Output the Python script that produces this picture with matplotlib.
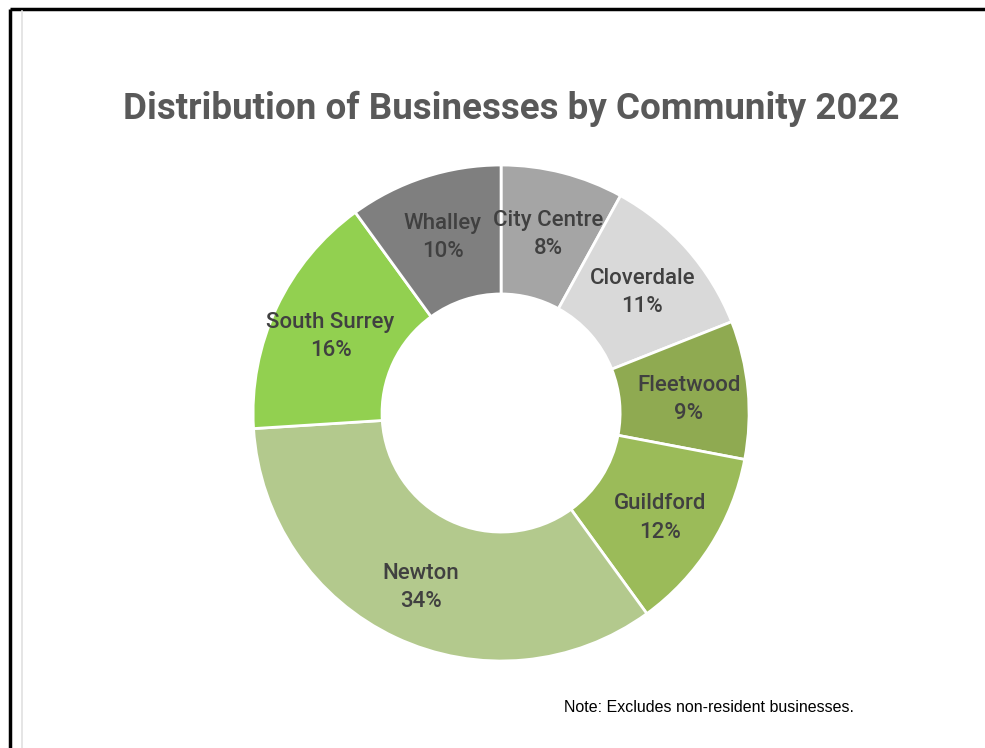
import matplotlib.pyplot as plt
from matplotlib.lines import Line2D
from matplotlib.transforms import offset_copy

communities = ["City Centre", "Cloverdale", "Fleetwood", "Guildford",
               "Newton", "South Surrey", "Whalley"]
shares = [8, 11, 9, 12, 34, 16, 10]
colors = ["#A5A5A5", "#D9D9D9", "#8FAA51", "#9BBB59",
          "#B3C98D", "#92D050", "#7F7F7F"]

fig = plt.figure(figsize=(9.85, 7.48), dpi=100)
fig.patch.set_facecolor("white")

# frame lines along the top and left edge
fig.add_artist(Line2D([0.0098, 0.0098], [0, 0.988], color="black", lw=2.5,
                      solid_capstyle="butt"))
fig.add_artist(Line2D([0.0098, 1.0], [0.988, 0.988], color="black", lw=2.5,
                      solid_capstyle="butt"))
fig.add_artist(Line2D([0.0223, 0.0223], [0, 0.985], color="#E0E0E0", lw=1.2))

fig.text(0.519, 0.855, "Distribution of Businesses by Community 2022",
         ha="center", va="center", fontsize=26.5, fontweight="bold",
         color="#595959", family="Roboto")

ax = fig.add_axes([0.2569, 0.1163, 0.5036, 0.6631])
labels = [f"{c}\n{s}%" for c, s in zip(communities, shares)]
wedges, texts = ax.pie(shares, colors=colors, startangle=90, counterclock=False,
                       labels=labels, labeldistance=0.76,
                       wedgeprops=dict(width=0.52, edgecolor="white", linewidth=2),
                       textprops=dict(ha="center", va="center", fontsize=16,
                                      fontweight="medium", color="#404040",
                                      family="Roboto", linespacing=1.45))
# nudge the labels down a few pixels
for t in texts:
    t.set_transform(offset_copy(ax.transData, fig=fig, y=-4, units="dots"))
ax.set_xlim(-1, 1)
ax.set_ylim(-1, 1)
ax.set_aspect("equal")

fig.text(0.573, 0.054, "Note: Excludes non-resident businesses.",
         ha="left", va="center", fontsize=11.5, color="black",
         family="Liberation Sans")

plt.savefig("out.png", dpi=100)
